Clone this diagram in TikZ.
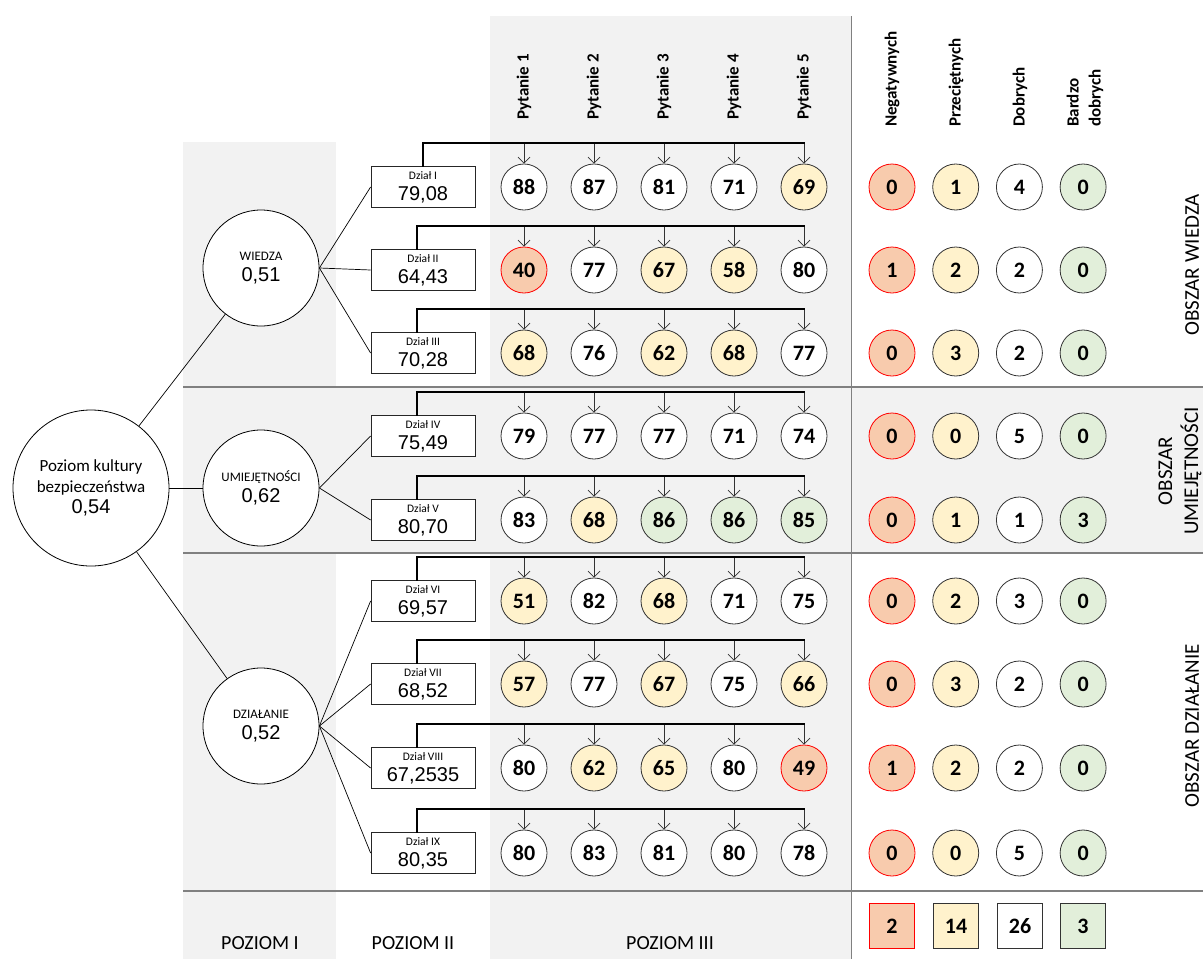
\documentclass[tikz,border=0pt]{standalone}
\usepackage{fontspec}
\setmainfont{Carlito}
\newfontfamily\arialf{Liberation Sans}
\usetikzlibrary{arrows.meta}
\definecolor{redf}{HTML}{F8CBAD}
\definecolor{yelf}{HTML}{FFF2CC}
\definecolor{grnf}{HTML}{E2EFDA}
\definecolor{bgc}{HTML}{F2F2F2}
\definecolor{sepc}{HTML}{808080}
\newcommand\qrow[7]{%
  \node[dbox] (d#1) at (423,#2) {#3\\{\arialf\fontsize{20}{21}\selectfont #4}};
  \coordinate (bs#1) at (#5,#2-44);
  \foreach \v/\cl [count=\i] in {#6} {
    \node[qc,\cl] (q#1-\i) at ({454+70*\i},#2) {\v};
    \coordinate (b#1-\i) at ({454+70*\i},#2-44);
    \draw[drop] (b#1-\i) -- (q#1-\i);
  }
  \draw[brk] (d#1.north -| bs#1) -- (bs#1) -- (b#1-5);
  \foreach \v/\cl [count=\j] in {#7} {
    \node[qc,\cl] (s#1-\j) at ({828.3+63.7*\j},#2) {\v};
  }
}
\begin{document}
\begin{tikzpicture}[x=1pt,y=-1pt,
  qc/.style={circle, draw=black!80, line width=0.8pt, minimum size=46pt, inner sep=0pt,
    font=\bfseries\fontsize{22}{22}\selectfont},
  sq/.style={rectangle, draw=black!80, line width=0.8pt, minimum size=45pt, inner sep=0pt,
    font=\bfseries\fontsize{22}{22}\selectfont},
  cw/.style={fill=white},
  cy/.style={fill=yelf},
  cg/.style={fill=grnf},
  cr/.style={fill=redf, draw=red},
  dbox/.style={rectangle, draw=black!85, line width=0.8pt, fill=white, minimum width=104pt,
    minimum height=41pt, inner sep=0pt, align=center, font=\fontsize{11.5}{21}\selectfont},
  lvl/.style={circle, draw=black, line width=0.8pt, fill=white, minimum size=116pt, inner sep=0pt, align=center},
  conn/.style={draw=black, line width=0.7pt},
  drop/.style={draw=black!80, line width=0.7pt, -{Straight Barb[length=6pt,width=12pt,line width=0.7pt]}},
  brk/.style={draw=black, line width=1.6pt, line cap=rect},
  sep/.style={draw=sepc, line width=1.6pt},
  vsep/.style={draw=sepc, line width=1pt},
  hdr/.style={rotate=90, anchor=west, inner sep=0pt, font=\bfseries\fontsize{17}{22}\selectfont},
  area/.style={rotate=90, inner sep=0pt, align=center, font=\fontsize{21}{26}\selectfont},
  lvlab/.style={inner sep=0pt, font=\fontsize{20}{22}\selectfont}
]
\useasboundingbox (0,0) rectangle (1203,959);
% backgrounds
\fill[bgc] (183,142) rectangle (336,959);
\fill[bgc] (490,16) rectangle (851,959);
\fill[bgc] (183,387) rectangle (1203,553);
\draw[vsep] (851,16) -- (851,959);
\draw[sep] (183,387) -- (1203,387);
\draw[sep] (183,553) -- (1203,553);
\draw[sep] (183,891) -- (1203,891);

% headers
\foreach \i in {1,...,5} \node[hdr] (p\i) at ({454+70*\i},120) {Pytanie \i};
\node[hdr] (hn) at (892,127) {Negatywnych};
\node[hdr] (hp) at (956,127) {Przeciętnych};
\node[hdr] (hd) at (1020,127) {Dobrych};
\node[hdr, align=left] (hb) at (1085,127) {Bardzo\\dobrych};

% rows
\qrow{1}{187}{Dział I}{79,08}{423}{88/cw,87/cw,81/cw,71/cw,69/cy}{0/cr,1/cy,4/cw,0/cg}
\qrow{2}{270}{Dział II}{64,43}{417}{40/cr,77/cw,67/cy,58/cy,80/cw}{1/cr,2/cy,2/cw,0/cg}
\qrow{3}{353}{Dział III}{70,28}{417}{68/cy,76/cw,62/cy,68/cy,77/cw}{0/cr,3/cy,2/cw,0/cg}
\qrow{4}{436}{Dział IV}{75,49}{417}{79/cw,77/cw,77/cw,71/cw,74/cw}{0/cr,0/cy,5/cw,0/cg}
\qrow{5}{520}{Dział V}{80,70}{417}{83/cw,68/cy,86/cg,86/cg,85/cg}{0/cr,1/cy,1/cw,3/cg}
\qrow{6}{601}{Dział VI}{69,57}{417}{51/cy,82/cw,68/cy,71/cw,75/cw}{0/cr,2/cy,3/cw,0/cg}
\qrow{7}{684}{Dział VII}{68,52}{417}{57/cy,77/cw,67/cy,75/cw,66/cy}{0/cr,3/cy,2/cw,0/cg}
\qrow{8}{768}{Dział VIII}{67,2535}{417}{80/cw,62/cy,65/cy,80/cw,49/cr}{1/cr,2/cy,2/cw,0/cg}
\qrow{9}{853}{Dział IX}{80,35}{417}{80/cw,83/cw,81/cw,80/cw,78/cw}{0/cr,0/cy,5/cw,0/cg}

% totals
\node[sq,cr] (t1) at (892,926) {2};
\node[sq,cy] (t2) at (956,926) {14};
\node[sq,cw] (t3) at (1020,926) {26};
\node[sq,cg] (t4) at (1083,926) {3};

% level nodes
\node[lvl, minimum size=156pt, font=\fontsize{17}{21}\selectfont] (root) at (91,488) {Poziom kultury\\bezpieczeństwa\\{\arialf\fontsize{20}{22}\selectfont 0,54}};
\node[lvl, font=\fontsize{13}{21}\selectfont] (wiedza) at (261,268) {WIEDZA\\{\arialf\fontsize{20}{21}\selectfont 0,51}};
\node[lvl, font=\fontsize{13}{21}\selectfont] (umiej) at (261,488) {UMIEJĘTNOŚCI\\{\arialf\fontsize{20}{21}\selectfont 0,62}};
\node[lvl, font=\fontsize{13}{21}\selectfont] (dzial) at (261,726) {DZIAŁANIE\\{\arialf\fontsize{20}{21}\selectfont 0,52}};

\draw[conn] (root) -- (wiedza);
\draw[conn] (root) -- (umiej);
\draw[conn] (root) -- (dzial);
\foreach \k in {1,2,3} \draw[conn] (wiedza.east) -- (d\k.west);
\foreach \k in {4,5} \draw[conn] (umiej.east) -- (d\k.west);
\foreach \k in {6,7,8,9} \draw[conn] (dzial.east) -- (d\k.west);

% area labels
\node[area] (aw) at (1192,265) {OBSZAR WIEDZA};
\node[area] (au) at (1180,471) {OBSZAR\\UMIEJĘTNOŚCI};
\node[area] (ad) at (1192,726) {OBSZAR DZIAŁANIE};

% level labels
\node[lvlab] (l1) at (260,943) {POZIOM I};
\node[lvlab] (l2) at (413,943) {POZIOM II};
\node[lvlab] (l3) at (670,943) {POZIOM III};
\end{tikzpicture}
\end{document}
